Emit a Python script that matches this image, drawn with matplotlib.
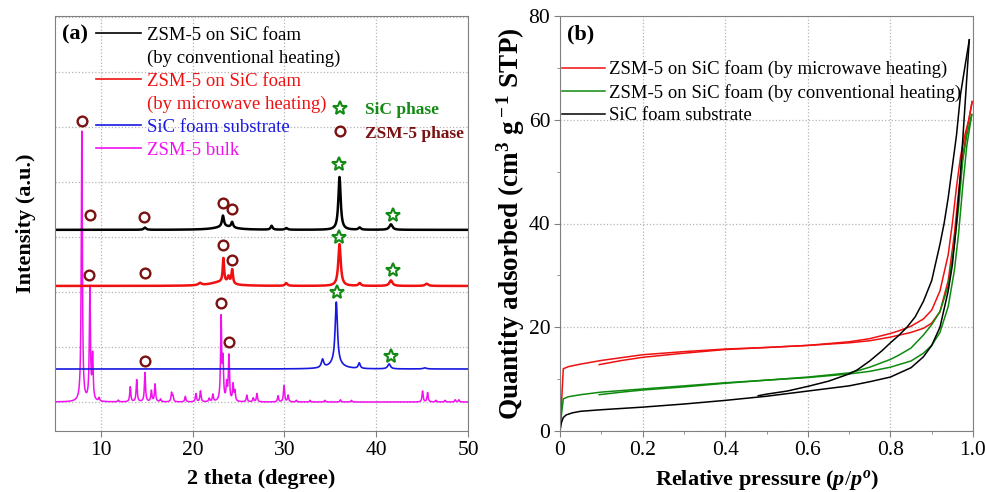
import numpy as np
import matplotlib
matplotlib.use('Agg')
import matplotlib.pyplot as plt
from matplotlib.lines import Line2D

plt.rcParams['font.family'] = ['Liberation Serif', 'DejaVu Serif']
plt.rcParams['mathtext.fontset'] = 'custom'
plt.rcParams['mathtext.rm'] = 'Liberation Serif'
plt.rcParams['mathtext.bf'] = 'Liberation Serif:bold'
plt.rcParams['mathtext.it'] = 'Liberation Serif:bold:italic'

# ---------------- (a) XRD data: peak lists ----------------
two_theta = np.arange(5.0, 50.0001, 0.02)

conv_offset = 3.13
conv_pos = [36.0, 23.3, 24.3, 41.6, 23.5, 14.8, 28.6, 38.2, 30.2]
conv_h = [0.96, 0.20, 0.10, 0.10, 0.06, 0.04, 0.07, 0.04, 0.03]
conv_w = [0.30, 0.25, 0.25, 0.40, 2.50, 0.30, 0.25, 0.30, 0.30]

micro_offset = 2.11
micro_pos = [36.0, 23.35, 24.3, 23.9, 41.6, 30.2, 38.2, 45.5, 23.0, 20.8]
micro_h = [0.76, 0.44, 0.26, 0.12, 0.10, 0.05, 0.05, 0.04, 0.07, 0.04]
micro_w = [0.32, 0.18, 0.20, 0.25, 0.40, 0.30, 0.30, 0.40, 2.50, 0.40]

sub_offset = 0.60
sub_pos = [35.65, 35.6, 34.15, 38.15, 41.4, 45.3]
sub_h = [1.12, 0.10, 0.15, 0.10, 0.09, 0.02]
sub_w = [0.30, 1.60, 0.30, 0.25, 0.35, 0.40]

bulk_offset = 0.0
bulk_pos = [7.92, 8.8, 9.1, 9.8, 11.9, 13.2, 13.9, 14.8, 15.5, 15.9, 16.5, 17.7, 17.85,
            19.2, 20.35, 20.85, 21.8, 22.2, 23.1, 23.3, 23.7, 23.95, 24.4, 24.6, 25.9,
            26.6, 27.0, 29.3, 29.95, 30.4, 31.3, 32.8, 34.4, 36.1, 37.3, 45.05, 45.6,
            46.5, 47.5, 48.6, 49.0]
bulk_h = [4.91, 2.05, 0.80, 0.06, 0.03, 0.27, 0.40, 0.53, 0.20, 0.32, 0.05, 0.16, 0.10,
          0.10, 0.15, 0.20, 0.06, 0.13, 1.50, 0.70, 0.30, 0.84, 0.30, 0.18, 0.12,
          0.07, 0.15, 0.11, 0.30, 0.12, 0.03, 0.03, 0.03, 0.04, 0.03, 0.20, 0.17,
          0.03, 0.03, 0.04, 0.04]
bulk_w = [0.14] * len(bulk_pos)

# phase markers (2theta, stacked intensity)
zsm_mark_x = [7.94, 8.8, 14.75, 23.28, 24.32, 8.75, 14.8, 23.3, 24.3, 23.1, 24.0, 14.8]
zsm_mark_y = [5.11, 3.40, 3.36, 3.62, 3.51, 2.31, 2.35, 2.85, 2.58, 1.80, 1.09, 0.75]
sic_mark_x = [35.95, 41.8, 35.9, 41.8, 35.77, 41.6]
sic_mark_y = [4.33, 3.40, 3.00, 2.40, 2.00, 0.84]

# ---------------- (b) N2 isotherms ----------------
red_ads_p = [0, 0.004, 0.008, 0.02, 0.05, 0.1, 0.2, 0.3, 0.4, 0.5, 0.6, 0.7, 0.75, 0.8,
             0.85, 0.88, 0.9, 0.92, 0.94, 0.955, 0.965, 0.975, 0.985, 0.998]
red_ads_q = [0, 6.0, 12.0, 12.4, 12.9, 13.6, 14.7, 15.3, 15.8, 16.1, 16.5, 17.0, 17.4, 18.1,
             19.0, 19.8, 20.8, 23.0, 29.0, 38.0, 46.0, 53.0, 58.0, 63.5]
red_des_p = [0.998, 0.99, 0.98, 0.97, 0.96, 0.95, 0.94, 0.92, 0.9, 0.88, 0.85, 0.82, 0.8,
             0.75, 0.7, 0.6, 0.5, 0.4, 0.3, 0.2, 0.15, 0.095]
red_des_q = [63.5, 60.0, 57.0, 53.0, 47.0, 40.0, 34.0, 27.0, 23.3, 21.6, 20.2, 19.3, 18.8,
             17.8, 17.2, 16.5, 16.1, 15.7, 15.0, 14.2, 13.6, 12.8]

green_ads_p = [0, 0.004, 0.008, 0.02, 0.05, 0.1, 0.2, 0.3, 0.4, 0.5, 0.6, 0.7, 0.75, 0.8,
               0.85, 0.88, 0.9, 0.92, 0.94, 0.955, 0.965, 0.975, 0.985, 0.997]
green_ads_q = [0, 3.5, 6.2, 6.6, 7.0, 7.5, 8.1, 8.7, 9.3, 9.8, 10.3, 11.0, 11.5, 12.3,
               13.5, 15.0, 16.5, 19.0, 24.0, 31.0, 38.0, 47.0, 55.0, 61.0]
green_des_p = [0.997, 0.985, 0.975, 0.965, 0.955, 0.94, 0.92, 0.9, 0.88, 0.85, 0.82, 0.8,
               0.75, 0.72, 0.7, 0.6, 0.5, 0.4, 0.3, 0.2, 0.15, 0.095]
green_des_q = [61.0, 57.0, 52.0, 43.0, 36.0, 28.0, 23.0, 20.5, 18.5, 16.0, 14.6, 13.8,
               12.3, 11.6, 11.2, 10.4, 9.8, 9.2, 8.5, 7.9, 7.5, 7.0]

black_ads_p = [0, 0.003, 0.008, 0.015, 0.03, 0.05, 0.1, 0.2, 0.3, 0.4, 0.5, 0.6, 0.7, 0.75,
               0.8, 0.85, 0.88, 0.9, 0.92, 0.94, 0.95, 0.96, 0.97, 0.98, 0.991]
black_ads_q = [0, 1.5, 2.6, 3.1, 3.5, 3.8, 4.1, 4.6, 5.2, 5.9, 6.7, 7.7, 8.7, 9.5,
               10.4, 12.2, 14.3, 16.5, 20.0, 27.0, 32.0, 40.0, 50.0, 62.0, 75.4]
black_des_p = [0.991, 0.98, 0.97, 0.96, 0.95, 0.94, 0.93, 0.92, 0.9, 0.88, 0.86, 0.84,
               0.82, 0.8, 0.78, 0.75, 0.72, 0.7, 0.65, 0.6, 0.55, 0.5, 0.48]
black_des_q = [75.4, 70.0, 65.0, 57.0, 51.0, 45.0, 40.0, 36.0, 29.0, 25.0, 22.0, 20.0,
               18.4, 17.0, 15.5, 13.5, 11.8, 11.0, 9.6, 8.6, 7.7, 7.1, 6.8]

xrd_xticks = [10, 20, 30, 40, 50]
iso_xticks = [0, 0.2, 0.4, 0.6, 0.8, 1.0]
iso_xticklabels = ['0', '0.2', '0.4', '0.6', '0.8', '1.0']
iso_yticks = [0, 20, 40, 60, 80]


def pattern(offset, pos, h, w):
    y = np.full_like(two_theta, offset)
    for p, a, ww in zip(pos, h, w):
        y += a / (1.0 + ((two_theta - p) / (ww / 2.0)) ** 2)
    return y


fig = plt.figure(figsize=(9.86, 4.92), dpi=100)
W, H = 986.0, 492.0
axa = fig.add_axes([55 / W, 61 / H, 413 / W, 415 / H])
axb = fig.add_axes([560 / W, 61 / H, 413 / W, 415 / H])

spine_c = '#808080'
grid_kw = dict(color='#b4b4b4', linestyle=':', linewidth=0.9)
tick_fs = 15.5

# ---------- panel (a) ----------
c_conv, c_micro, c_sub, c_bulk = '#000000', '#f01010', '#1818e0', '#f010f0'
axa.plot(two_theta, pattern(bulk_offset, bulk_pos, bulk_h, bulk_w), color=c_bulk, lw=1.1)
axa.plot(two_theta, pattern(sub_offset, sub_pos, sub_h, sub_w), color=c_sub, lw=1.2)
axa.plot(two_theta, pattern(micro_offset, micro_pos, micro_h, micro_w), color=c_micro, lw=1.8)
axa.plot(two_theta, pattern(conv_offset, conv_pos, conv_h, conv_w), color=c_conv, lw=1.8)

zsm_c = '#7a1212'
sic_c = '#138a13'
axa.plot(zsm_mark_x, zsm_mark_y, ls='none', marker='o', ms=7, mfc='none', mec=zsm_c, mew=1.7)
axa.plot(sic_mark_x, sic_mark_y, ls='none', marker='*', ms=10.5, mfc='none', mec=sic_c, mew=1.5)

axa.set_xlim(5, 50)
axa.set_ylim(-0.527, 7.018)
axa.set_xticks(xrd_xticks)
axa.set_yticks(range(8))
axa.tick_params(axis='y', length=0, labelleft=False)
axa.tick_params(axis='x', direction='out', length=4, color=spine_c, labelsize=tick_fs, pad=3)
axa.grid(True, **grid_kw)
for s in axa.spines.values():
    s.set_color(spine_c)
axa.set_xlabel('2 theta (degree)', fontsize=16, fontweight='bold', labelpad=7)
axa.set_ylabel('Intensity (a.u.)', fontsize=16, fontweight='bold', labelpad=14)
axa.text(0.018, 0.955, '(a)', transform=axa.transAxes, fontsize=16, fontweight='bold',
         va='center', ha='left')

handles = [Line2D([], [], color=c_conv, lw=1.2), Line2D([], [], color='none'),
           Line2D([], [], color=c_micro, lw=1.2), Line2D([], [], color='none'),
           Line2D([], [], color=c_sub, lw=1.2), Line2D([], [], color=c_bulk, lw=1.2)]
labels = ['ZSM-5 on SiC foam', '(by conventional heating)', 'ZSM-5 on SiC foam',
          '(by microwave heating)', 'SiC foam substrate', 'ZSM-5 bulk']
tcols = [c_conv, c_conv, c_micro, c_micro, c_sub, c_bulk]
leg = axa.legend(handles, labels, loc='upper left', bbox_to_anchor=(0.100, 0.975),
                 frameon=False, fontsize=13.5, handlelength=2.4, handletextpad=0.3,
                 labelspacing=0.31, borderpad=0, borderaxespad=0)
for t, c in zip(leg.get_texts(), tcols):
    t.set_color(c)
axa.add_artist(leg)

ph = [Line2D([], [], ls='none', marker='*', ms=10.5, mfc='none', mec=sic_c, mew=1.5),
      Line2D([], [], ls='none', marker='o', ms=7, mfc='none', mec=zsm_c, mew=1.7)]
leg2 = axa.legend(ph, ['SiC phase', 'ZSM-5 phase'], loc='upper left',
                  bbox_to_anchor=(0.668, 0.792), frameon=False, handlelength=1.0,
                  handletextpad=0.95, labelspacing=0.4, borderpad=0, borderaxespad=0,
                  prop={'size': 12.5, 'weight': 'bold'})
for t, c in zip(leg2.get_texts(), [sic_c, zsm_c]):
    t.set_color(c)

# ---------- panel (b) ----------
cr, cg, ck = '#f01010', '#0e8a0e', '#000000'
axb.plot(red_ads_p, red_ads_q, color=cr, lw=1.1)
axb.plot(red_des_p, red_des_q, color=cr, lw=1.1)
axb.plot(green_ads_p, green_ads_q, color=cg, lw=1.1)
axb.plot(green_des_p, green_des_q, color=cg, lw=1.1)
axb.plot(black_ads_p, black_ads_q, color=ck, lw=1.1)
axb.plot(black_des_p, black_des_q, color=ck, lw=1.1)
axb.set_xlim(0, 1.0)
axb.set_ylim(0, 80)
axb.set_xticks(iso_xticks)
axb.set_xticklabels(iso_xticklabels)
axb.set_yticks(iso_yticks)
axb.set_xticks([0.1, 0.3, 0.5, 0.7, 0.9], minor=True)
axb.set_yticks([10, 30, 50, 70], minor=True)
axb.tick_params(which='major', direction='out', length=4, color=spine_c, labelsize=tick_fs, pad=3)
axb.tick_params(which='minor', direction='out', length=2.5, color=spine_c)
axb.grid(True, which='major', **grid_kw)
for s in axb.spines.values():
    s.set_color(spine_c)
axb.set_xlabel(r'Relative pressure ($\it{p/p^o}$)', fontsize=16, fontweight='bold', labelpad=6)
axb.set_ylabel(r'Quantity adsorbed (cm$^{\bf 3}$ g$^{\bf -1}$ STP)', fontsize=19.5,
               fontweight='bold', labelpad=1)
axb.text(0.018, 0.955, '(b)', transform=axb.transAxes, fontsize=16, fontweight='bold',
         va='center', ha='left')
hb = [Line2D([], [], color=cr, lw=1.1), Line2D([], [], color=cg, lw=1.1),
      Line2D([], [], color=ck, lw=1.1)]
axb.legend(hb, ['ZSM-5 on SiC foam (by microwave heating)',
                'ZSM-5 on SiC foam (by conventional heating)', 'SiC foam substrate'],
           loc='upper left', bbox_to_anchor=(0.005, 0.893), frameon=False, fontsize=13.5,
           handlelength=2.3, handletextpad=0.2, labelspacing=0.29, borderpad=0,
           borderaxespad=0)

fig.savefig('out.png', dpi=100)
